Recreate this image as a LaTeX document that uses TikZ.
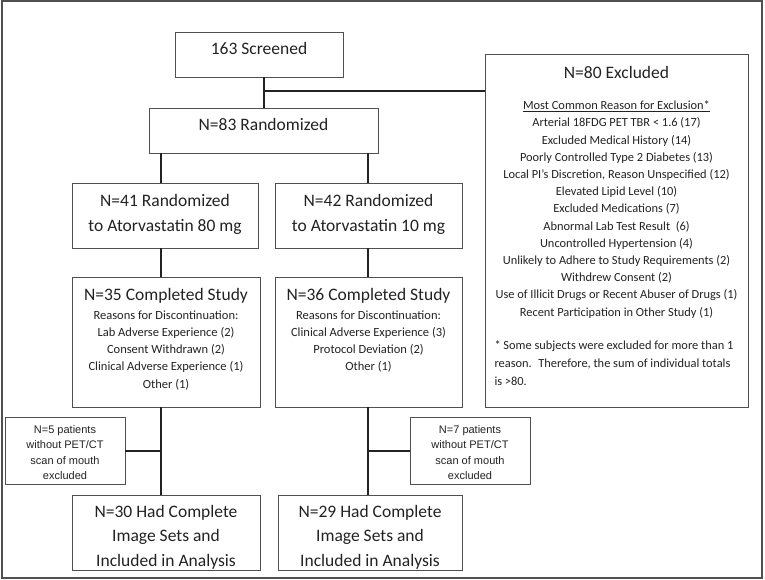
\documentclass[tikz,border=0pt]{standalone}
\usepackage{fontspec}
\setmainfont{Carlito}
\newfontfamily\arialfont{Liberation Sans}
\definecolor{boxline}{HTML}{505050}
\definecolor{ink}{HTML}{222222}
\newcommand{\fbig}{\fontsize{17.5}{24.3}\selectfont}
\newcommand{\fmid}{\fontsize{12.5}{17.3}\selectfont}
\newcommand{\fnote}{\fontsize{12.4}{17.2}\selectfont}
\newcommand{\fsmall}{\arialfont\fontsize{11}{15.6}\selectfont}

\begin{document}
\begin{tikzpicture}[x=1pt, y=-1pt,
    box/.style={draw=boxline, line width=0.9pt, inner sep=0pt, align=flush center, text=ink, font=\fbig},
    flat/.style={text height=0pt, text depth=0pt},
    link/.style={draw=ink, line width=2pt}]
        \useasboundingbox (0, 0) rectangle (765, 580);
        \draw[boxline, line width=1.5pt] (2, 1) rectangle (762, 578);

        \node[box, flat, minimum width=168, minimum height=45] (scr) at (259, 54.5) {163 Screened};
        \node[box, flat, minimum width=229, minimum height=45] (rand) at (263.5, 130.5) {N=83 Randomized};

        \node[box, text width=184, text height=15, text depth=32, minimum width=186, minimum height=65] (a80) at (165, 215.5) {N=41 Randomized\\ to Atorvastatin 80 mg};
        \node[box, text width=185, text height=15, text depth=32, minimum width=187, minimum height=65] (a10) at (368.5, 215.5) {N=42 Randomized\\ to Atorvastatin 10 mg};

        \node[box, font=\fmid, text width=186, text height=15, text depth=97.6, minimum width=188, minimum height=130] (c35) at (166, 342) {{\fbig N=35 Completed Study}\\[1pt] Reasons for Discontinuation:\\ Lab Adverse Experience (2)\\ Consent Withdrawn (2)\\ Clinical Adverse Experience (1)\\ Other (1)};
        \node[box, font=\fmid, text width=185, text height=15, text depth=97.6, minimum width=187, minimum height=130] (c36) at (368.5, 342) {{\fbig N=36 Completed Study}\\[1pt] Reasons for Discontinuation:\\ Clinical Adverse Experience (3)\\ Protocol Deviation (2)\\ Other (1)};

        \node[box, font=\fsmall, text width=118, text height=12, text depth=47, minimum width=120, minimum height=67] (ex5) at (65, 450.5) {N=5 patients\\ without PET/CT\\ scan of mouth\\ excluded};
        \node[box, font=\fsmall, text width=118, text height=12, text depth=47, minimum width=120, minimum height=67] (ex7) at (470, 450.5) {N=7 patients\\ without PET/CT\\ scan of mouth\\ excluded};

        \node[box, text width=186, text height=15, text depth=45, minimum width=188, minimum height=75] (f30) at (166, 532.5) {N=30 Had Complete\\ Image Sets and\\ Included in Analysis};
        \node[box, text width=182, text height=15, text depth=45, minimum width=184, minimum height=75] (f29) at (370, 532.5) {N=29 Had Complete\\ Image Sets and\\ Included in Analysis};

        \node[box, font=\fnote, text width=262, text height=20, text depth=324, minimum width=263, minimum height=353] (exc) at (616.5, 230.5) {{\fbig N=80 Excluded}\\[14pt] \underline{Most Common Reason for Exclusion*}\\ Arterial 18FDG PET TBR < 1.6 (17)\\ Excluded Medical History (14)\\ Poorly Controlled Type 2 Diabetes (13)\\ Local PI’s Discretion, Reason Unspecified (12)\\ Elevated Lipid Level (10)\\ Excluded Medications (7)\\ Abnormal Lab Test Result~ (6)\\ Uncontrolled Hypertension (4)\\ Unlikely to Adhere to Study Requirements (2)\\ Withdrew Consent (2)\\ Use of Illicit Drugs or Recent Abuser of Drugs (1)\\ Recent Participation in Other Study (1)\\[16pt] \parbox[t]{244pt}{\raggedright\fontsize{12.4}{18}\selectfont \mbox{* Some subjects were excluded for more than 1}\\ \mbox{reason.~ Therefore, the sum of individual totals}\\ is >80.}};

        \coordinate (lcol) at (161, 0);
        \coordinate (rcol) at (368, 0);
        \coordinate (split) at (264, 91);

        \draw[link](rand.north |- scr.south) to (rand.north);
        \draw[link](split) to (split -| exc.west);

        \draw[link](rand.south -| lcol) to (a80.north -| lcol);
        \draw[link](a80.south -| lcol) to (c35.north -| lcol);
        \draw[link](c35.south -| lcol) to (f30.north -| lcol);
        \draw[link](ex5.east) to (ex5.east -| lcol);

        \draw[link](rand.south -| rcol) to (a10.north -| rcol);
        \draw[link](a10.south -| rcol) to (c36.north -| rcol);
        \draw[link](c36.south -| rcol) to (f29.north -| rcol);
        \draw[link](ex7.west) to (ex7.west -| rcol);
    \end{tikzpicture}
\end{document}
